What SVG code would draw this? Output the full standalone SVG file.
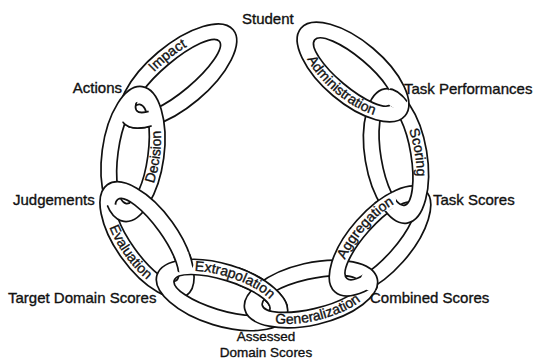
<svg xmlns="http://www.w3.org/2000/svg" width="534" height="360" viewBox="0 0 534 360">
<style>
.ring{fill:#fff;fill-rule:evenodd;stroke:#111;stroke-width:1.7}
.lt{font-family:"Liberation Sans",Arial,sans-serif;font-size:14px;fill:#111;stroke:#111;stroke-width:0.35;text-anchor:middle}
.lab{font-family:"Liberation Sans",Arial,sans-serif;font-size:15px;fill:#111;stroke:#111;stroke-width:0.35}
</style>
<defs>
<path id="ring" d="M-68,0 A68,31 0 1 0 68,0 A68,31 0 1 0 -68,0 Z M-50,0 A50,15 0 1 0 50,0 A50,15 0 1 0 -50,0 Z"/>
<path id="ringL" d="M-72,0 A72,31 0 1 0 72,0 A72,31 0 1 0 -72,0 Z M-54,0 A54,15 0 1 0 54,0 A54,15 0 1 0 -54,0 Z"/>
<path id="tcw" d="M0,19 A55,19 0 0 1 0,-19 A55,19 0 0 1 0,19"/>
<path id="bccw" d="M0,-27 A63,27 0 0 0 0,27 A63,27 0 0 0 0,-27"/>
<clipPath id="cI" clipPathUnits="userSpaceOnUse"><ellipse transform="translate(133,154) rotate(-82.3)" rx="53" ry="18"/></clipPath>
<clipPath id="cD" clipPathUnits="userSpaceOnUse"><circle cx="112" cy="214" r="10"/></clipPath>
<clipPath id="cEv" clipPathUnits="userSpaceOnUse"><circle cx="183" cy="262" r="11"/></clipPath>
<clipPath id="cEx" clipPathUnits="userSpaceOnUse"><rect x="238" y="264" width="62" height="42"/></clipPath>
<clipPath id="cG" clipPathUnits="userSpaceOnUse"><circle cx="372" cy="280" r="11"/></clipPath>
<clipPath id="cA" clipPathUnits="userSpaceOnUse"><circle cx="385" cy="200" r="11"/></clipPath>
<clipPath id="cS" clipPathUnits="userSpaceOnUse"><circle cx="397" cy="97" r="11"/></clipPath>
</defs>
<g id="chain">
<g id="link-impact" transform="translate(178,76) rotate(-40)"><use href="#ringL" class="ring"/><text class="lt"><textPath href="#tcw" startOffset="52%">Impact</textPath></text></g>
<g id="link-decision" transform="translate(133,154) rotate(-82.3)"><use href="#ring" class="ring"/><text class="lt"><textPath href="#bccw" startOffset="50%">Decision</textPath></text></g>
<g id="link-evaluation" transform="translate(147,240) rotate(54.3)"><use href="#ring" class="ring"/><text class="lt"><textPath href="#bccw" startOffset="50%">Evaluation</textPath></text></g>
<g id="link-extrapolation" transform="translate(222,295) rotate(17)"><use href="#ring" class="ring"/><text class="lt"><textPath href="#tcw" startOffset="53%">Extrapolation</textPath></text></g>
<g id="link-generalization" transform="translate(311,294) rotate(-13)"><use href="#ring" class="ring"/><text class="lt"><textPath href="#bccw" startOffset="51%">Generalization</textPath></text></g>
<g id="link-aggregation" transform="translate(380,241) rotate(-48.5)"><use href="#ring" class="ring"/><text class="lt"><textPath href="#tcw" startOffset="50%">Aggregation</textPath></text></g>
<g id="link-scoring" transform="translate(396,156) rotate(80.5)"><use href="#ring" class="ring"/><text class="lt"><textPath href="#tcw" startOffset="50%">Scoring</textPath></text></g>
<g id="link-administration" transform="translate(353,72) rotate(40)"><use href="#ring" class="ring"/><text class="lt"><textPath href="#bccw" startOffset="50%">Administration</textPath></text></g>
</g>
<g id="interlocks">
<use href="#link-impact" clip-path="url(#cI)"/>
<use href="#link-decision" clip-path="url(#cD)"/>
<use href="#link-evaluation" clip-path="url(#cEv)"/>
<use href="#link-extrapolation" clip-path="url(#cEx)"/>
<use href="#link-generalization" clip-path="url(#cG)"/>
<use href="#link-aggregation" clip-path="url(#cA)"/>
<use href="#link-scoring" clip-path="url(#cS)"/>
</g>
<g id="labels">
<text class="lab" x="242" y="24">Student</text>
<text class="lab" x="122" y="93" text-anchor="end">Actions</text>
<text class="lab" x="404" y="94">Task Performances</text>
<text class="lab" x="13" y="205">Judgements</text>
<text class="lab" x="433" y="205">Task Scores</text>
<text class="lab" x="8" y="303">Target Domain Scores</text>
<text class="lab" x="370" y="303">Combined Scores</text>
<text class="lab" x="266" y="341" text-anchor="middle" style="font-size:13.5px">Assessed</text>
<text class="lab" x="266" y="357" text-anchor="middle" style="font-size:13.5px">Domain Scores</text>
</g>
</svg>
